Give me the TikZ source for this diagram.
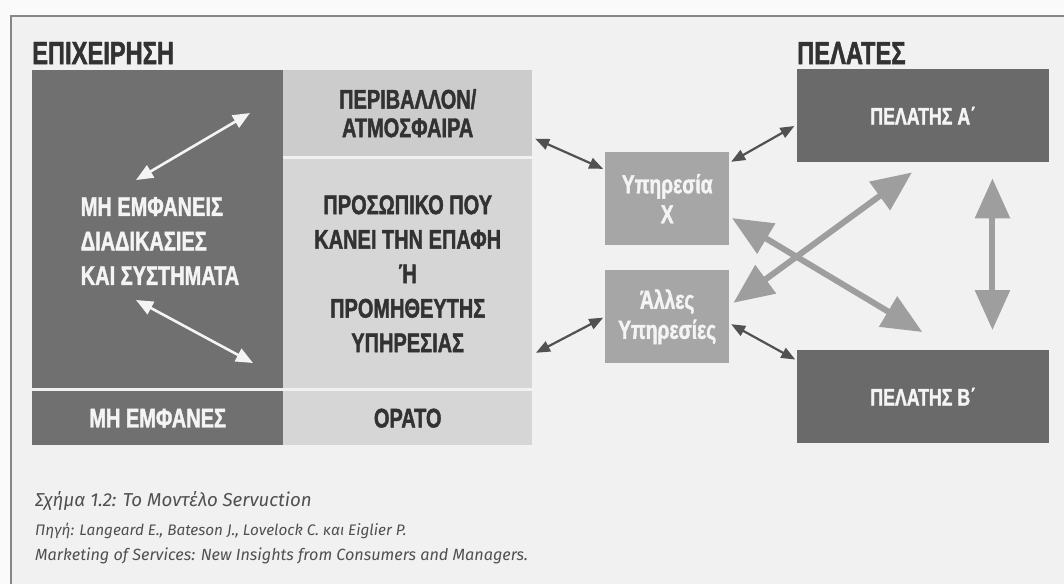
\documentclass[tikz,border=0pt]{standalone}
\usepackage{fontspec}
\setmainfont{Liberation Sans}
\newfontfamily\boxfont[FakeStretch=0.74,FakeBold=1.5]{Liberation Sans}
\newfontfamily\capfont{Fira Sans}
\usetikzlibrary{arrows.meta}

\definecolor{paper}{RGB}{241,241,241}
\definecolor{margin}{RGB}{250,250,250}
\definecolor{framegray}{RGB}{135,135,135}
\definecolor{darkblk}{RGB}{112,112,112}
\definecolor{envblk}{RGB}{204,204,204}
\definecolor{lightblk}{RGB}{214,214,214}
\definecolor{midblk}{RGB}{166,166,166}
\definecolor{clientblk}{RGB}{106,106,106}
\definecolor{inkdark}{RGB}{50,50,50}
\definecolor{inklight}{RGB}{244,244,244}
\definecolor{bigarr}{RGB}{158,158,158}
\definecolor{capink}{RGB}{80,80,80}

\tikzset{
	block/.style={anchor=north west, inner sep=0pt, align=center,
		font=\boxfont\bfseries\fontsize{27}{34.5}\selectfont},
	heading/.style={anchor=west, inner sep=0pt, text=inkdark,
		font=\boxfont\bfseries\fontsize{32}{34}\selectfont},
	whitearr/.style={draw=inklight, line width=2.6pt, {Triangle[length=17pt,width=14pt]}-{Triangle[length=17pt,width=14pt]}},
	smallarr/.style={draw=inkdark!85, line width=2.2pt, {Triangle[length=14pt,width=11pt]}-{Triangle[length=14pt,width=11pt]}},
	bigarrow/.style={draw=bigarr, line width=6pt, {Triangle[length=40pt,width=34pt]}-{Triangle[length=40pt,width=34pt]}},
	caption/.style={anchor=base west, inner sep=0pt, text=capink}
}

\begin{document}
\begin{tikzpicture}[x=1pt,y=-1pt]
	\useasboundingbox (0,0) rectangle (1064,584);
	\fill[margin] (0,0) rectangle (1064,584);
	\fill[paper] (11,16) rectangle (1064,584);
	\draw[framegray, line width=2.2pt] (1064,16) -- (11,16) -- (11,584);

	\node[heading] (firm) at (32,53) {ΕΠΙΧΕΙΡΗΣΗ};
	\node[heading] (clients) at (797,53) {ΠΕΛΑΤΕΣ};

	\node[block, fill=darkblk, minimum width=251pt, minimum height=318pt] (hidden) at (32,70) {};
	\node[block, fill=envblk, text=inkdark, minimum width=249pt, minimum height=86pt] (env) at (283,70) {ΠΕΡΙΒΑΛΛΟΝ/\\[-6pt]ΑΤΜΟΣΦΑΙΡΑ};
	\node[block, fill=lightblk, text=inkdark, minimum width=249pt, minimum height=229pt] (staff) at (283,159)
		{ΠΡΟΣΩΠΙΚΟ ΠΟΥ\\ΚΑΝΕΙ ΤΗΝ ΕΠΑΦΗ\\Ή\\ΠΡΟΜΗΘΕΥΤΗΣ\\ΥΠΗΡΕΣΙΑΣ};
	\node[block, fill=darkblk, text=inklight, minimum width=251pt, minimum height=54pt] (invisible) at (32,391) {ΜΗ ΕΜΦΑΝΕΣ};
	\node[block, fill=lightblk, text=inkdark, minimum width=249pt, minimum height=54pt] (visible) at (283,391) {ΟΡΑΤΟ};

	\node[block, anchor=center, align=left, text=inklight] (hidtext) at (160,241)
		{ΜΗ ΕΜΦΑΝΕΙΣ\\ΔΙΑΔΙΚΑΣΙΕΣ\\ΚΑΙ ΣΥΣΤΗΜΑΤΑ};
	\draw[whitearr] (136,180) -- (250,113);
	\draw[whitearr] (136,300) -- (253,363);

	\node[block, fill=midblk, text=inklight, minimum width=124pt, minimum height=93pt,
		font=\boxfont\bfseries\fontsize{26}{30}\selectfont] (servx) at (605,152) {Υπηρεσία\\Χ};
	\node[block, fill=midblk, text=inklight, minimum width=124pt, minimum height=93pt,
		font=\boxfont\bfseries\fontsize{26}{30}\selectfont] (others) at (605,270) {Άλλες\\Υπηρεσίες};

	\node[block, fill=clientblk, text=inklight, minimum width=252pt, minimum height=93pt,
		font=\boxfont\bfseries\fontsize{24}{26}\selectfont] (clienta) at (797,69) {ΠΕΛΑΤΗΣ Α΄};
	\node[block, fill=clientblk, text=inklight, minimum width=252pt, minimum height=93pt,
		font=\boxfont\bfseries\fontsize{24}{26}\selectfont] (clientb) at (797,350) {ΠΕΛΑΤΗΣ Β΄};

	\draw[smallarr, shorten <=3pt, shorten >=2pt] (env.-11) -- (servx.155);
	\draw[smallarr, shorten <=4pt, shorten >=2pt] (staff.-33) -- (others.west);
	\draw[smallarr, shorten <=2pt, shorten >=3pt] (servx.30) -- (clienta.184);
	\draw[smallarr, shorten <=2pt, shorten >=2pt] (others.-6) -- (clientb.164);

	\draw[bigarrow, shorten <=3pt, shorten >=35pt] (servx.-16) -- (clientb.58);
	\draw[bigarrow, shorten <=5pt, shorten >=17pt] (others.10) -- (clienta.-87);
	\draw[bigarrow, shorten <=16pt, shorten >=20pt] (clienta.-34.3) -- (clientb.34.6);

	\node[caption, font=\capfont\itshape\fontsize{18.7}{20}\selectfont] (cap1) at (35,506) {Σχήμα 1.2: Το Μοντέλο Servuction};
	\node[caption, font=\capfont\itshape\fontsize{15.3}{16}\selectfont] (cap2) at (35,535) {Πηγή: Langeard E., Bateson J., Lovelock C. και Eiglier P.};
	\node[caption, font=\capfont\itshape\fontsize{16.2}{17}\selectfont] (cap3) at (35,560) {Marketing of Services: New Insights from Consumers and Managers.};
\end{tikzpicture}
\end{document}
